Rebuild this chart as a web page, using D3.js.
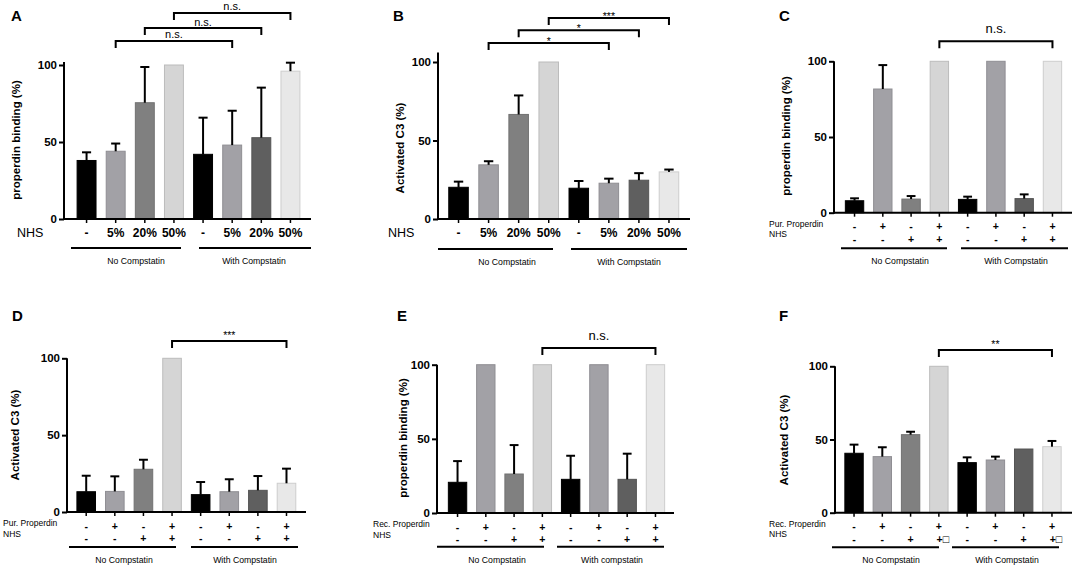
<!DOCTYPE html>
<html>
<head>
<meta charset="utf-8">
<script src="https://cdn.jsdelivr.net/npm/d3@7"></script>
<style>
  body { margin: 0; background: #fff; }
  svg { font-family: "Liberation Sans", Arial, sans-serif; }
</style>
</head>
<body>
<svg width="1084" height="569"></svg>
<script>
// values (percent)
const nhsLevels = ["-", "5%", "20%", "50%", "-", "5%", "20%", "50%"];
const propRow = ["-", "+", "-", "+", "-", "+", "-", "+"];
const nhsRow = ["-", "-", "+", "+", "-", "-", "+", "+"];
const nhsRowF = ["-", "-", "+", "+\u25A1", "-", "-", "+", "+\u25A1"];
const groups = ["No Compstatin", "With Compstatin"];
const groupsE = ["No Compstatin", "With compstatin"];

const meansA = [38, 44, 75.5, 100, 42, 48, 52.8, 96];
const errA = [5.3, 5, 23.2, 0, 23.8, 22.3, 32.5, 5.5];
const sigA = [[1, 5, "n.s.", 115.6], [2, 6, "n.s.", 124], [3, 7, "n.s.", 133.8]];

const meansB = [20.2, 34.5, 66.6, 100, 19.6, 22.8, 24.7, 30];
const errB = [3.6, 2.3, 12.1, 0, 4.6, 2.9, 4.5, 1.5];
const sigB = [[1, 5, "*", 112.1], [2, 6, "*", 120.2], [3, 7, "***", 128.1]];

const meansC = [7.9, 81.7, 9, 100, 8.8, 100, 9.3, 100];
const errC = [1.6, 15.8, 2, 0, 1.8, 0, 2.8, 0];
const sigC = [[3, 7, "n.s.", 113.3]];

const meansD = [13.2, 13.4, 27.8, 100, 11.3, 13.2, 14.1, 18.7];
const errD = [10.4, 9.8, 6.2, 0, 8.2, 8.1, 9.3, 9.5];
const sigD = [[3, 7, "***", 111.3]];

const meansE = [20.7, 100, 26.3, 100, 22.7, 100, 22.7, 100];
const errE = [14.3, 0, 19.5, 0, 15.9, 0, 17.3, 0];
const sigE = [[3, 7, "n.s.", 111.3]];

const meansF = [40.6, 38.3, 53.3, 100, 34.2, 36, 43.5, 45.1];
const errF = [5.9, 6.4, 2, 0, 3.6, 2.3, 0, 3.9];
const sigF = [[3, 7, "**", 111.1]];

const barColors = ["#000000", "#a2a1a6", "#808080", "#d5d5d5", "#000000", "#a2a1a6", "#5f5f5f", "#e8e8e8"];

const svg = d3.select('svg');

function drawPanel(p) {
  const g = svg.append('g');
  const x = d3.scaleBand()
    .domain(d3.range(p.means.length))
    .range(p.band)
    .paddingInner(0.35)
    .paddingOuter(0.175);
  const y = d3.scaleLinear().domain([0, 100]).range([p.y0, p.y100]);
  const cx = i => x(i) + x.bandwidth() / 2;

  // bars
  g.selectAll('rect.bar')
    .data(p.means)
    .enter()
    .append('rect')
    .attr('class', 'bar')
    .attr('x', (d, i) => x(i))
    .attr('y', d => y(d))
    .attr('width', x.bandwidth())
    .attr('height', d => y(0) - y(d))
    .attr('fill', (d, i) => barColors[i])
    .attr('stroke', (d, i) => d3.color(barColors[i]).darker(0.35))
    .attr('stroke-width', 1);

  // error bars (upper only)
  const cap = x.bandwidth() * 0.24;
  p.means.forEach((m, i) => {
    const e = p.err[i];
    if (!e) return;
    g.append('line')
      .attr('x1', cx(i)).attr('x2', cx(i))
      .attr('y1', y(m)).attr('y2', y(m + e))
      .attr('stroke', '#000').attr('stroke-width', 2);
    g.append('line')
      .attr('x1', cx(i) - cap).attr('x2', cx(i) + cap)
      .attr('y1', y(m + e)).attr('y2', y(m + e))
      .attr('stroke', '#000').attr('stroke-width', 2);
  });

  // y axis
  const yAxis = d3.axisLeft(y).tickValues([0, 50, 100]).tickSize(5).tickSizeOuter(0);
  const ya = g.append('g')
    .attr('transform', 'translate(' + p.left + ',0)')
    .call(yAxis);
  ya.select('.domain').remove();
  ya.selectAll('line').attr('stroke', '#000').attr('stroke-width', 2);
  ya.selectAll('text')
    .attr('x', -7)
    .style('font-size', '11.5px')
    .style('font-weight', 'bold')
    .style('font-family', '"Liberation Sans", Arial, sans-serif')
    .attr('fill', '#000');
  g.append('line')
    .attr('x1', p.left).attr('x2', p.left)
    .attr('y1', y(0) + 1).attr('y2', y(p.axisTop))
    .attr('stroke', '#000').attr('stroke-width', 2);

  // x axis
  g.append('line')
    .attr('x1', p.left - 1).attr('x2', p.right)
    .attr('y1', y(0)).attr('y2', y(0))
    .attr('stroke', '#000').attr('stroke-width', 2);
  g.selectAll('line.xtick')
    .data(p.means)
    .enter()
    .append('line')
    .attr('class', 'xtick')
    .attr('x1', (d, i) => cx(i)).attr('x2', (d, i) => cx(i))
    .attr('y1', y(0)).attr('y2', y(0) + 4)
    .attr('stroke', '#000').attr('stroke-width', 1.5);

  // y title
  g.append('text')
    .attr('transform', 'translate(' + p.ylabel[0] + ',' + p.ylabel[1] + ') rotate(-90)')
    .attr('text-anchor', 'middle')
    .attr('dominant-baseline', 'central')
    .style('font-size', '11.5px')
    .style('font-weight', 'bold')
    .text(p.ytitle);

  // panel letter
  g.append('text')
    .attr('x', p.letter[0]).attr('y', p.letter[1])
    .style('font-size', '15px')
    .style('font-weight', 'bold')
    .text(p.id);

  // category rows
  if (p.rows.length === 1) {
    g.selectAll('text.cat')
      .data(p.rows[0])
      .enter()
      .append('text')
      .attr('class', 'cat')
      .attr('x', (d, i) => cx(i))
      .attr('y', y(0) + 14)
      .attr('text-anchor', 'middle')
      .attr('dominant-baseline', 'central')
      .style('font-size', '12px')
      .style('font-weight', 'bold')
      .text(d => d);
    g.append('text')
      .attr('x', p.rowLabelX).attr('y', y(0) + 14)
      .attr('dominant-baseline', 'central')
      .style('font-size', '12.5px')
      .text(p.rowNames[0]);
  } else {
    p.rows.forEach((row, r) => {
      g.selectAll('text.cat' + r)
        .data(row)
        .enter()
        .append('text')
        .attr('class', 'cat' + r)
        .attr('x', (d, i) => cx(i) + (d.length > 1 ? 4 : 0))
        .attr('y', y(0) + 13.5 + r * 12.5)
        .attr('text-anchor', 'middle')
        .attr('dominant-baseline', 'central')
        .attr('fill', '#000')
        .style('font-size', '10.5px')
        .style('font-weight', 'bold')
        .text(d => d);
      g.append('text')
        .attr('x', p.rowLabelX).attr('y', y(0) + 11 + r * 10.5)
        .attr('dominant-baseline', 'central')
        .style('font-size', '8.5px')
        .text(p.rowNames[r]);
    });
  }

  // group lines and labels
  p.groupLines.forEach((gl, k) => {
    g.append('line')
      .attr('x1', gl[0]).attr('x2', gl[1])
      .attr('y1', y(0) + p.groupDy).attr('y2', y(0) + p.groupDy)
      .attr('stroke', '#000').attr('stroke-width', 2);
    g.append('text')
      .attr('x', p.groupLabelX[k])
      .attr('y', y(0) + p.groupDy + 13)
      .attr('text-anchor', 'middle')
      .attr('dominant-baseline', 'central')
      .style('font-size', '8.7px')
      .text(p.groups[k]);
  });

  // significance brackets
  p.sig.forEach(s => {
    const yb = y(s[3]);
    g.append('path')
      .attr('d', 'M' + cx(s[0]) + ',' + (yb + 7) + 'V' + yb + 'H' + cx(s[1]) + 'V' + (yb + 7))
      .attr('fill', 'none')
      .attr('stroke', '#000')
      .attr('stroke-width', 2);
    const star = s[2].indexOf('*') >= 0;
    g.append('text')
      .attr('x', (cx(s[0]) + cx(s[1])) / 2)
      .attr('y', yb - (star ? p.starGap : p.nsGap))
      .attr('text-anchor', 'middle')
      .style('font-size', star ? '10.5px' : p.nsSize + 'px')
      .text(s[2]);
  });
}

const panels = [
  { id: 'A', means: meansA, err: errA, sig: sigA, left: 64, right: 311, band: [72, 305], y0: 219, y100: 65, axisTop: 102,
    ytitle: 'properdin binding (%)', ylabel: [16, 140], letter: [11, 21],
    rows: [nhsLevels], rowNames: ['NHS'], rowLabelX: 17,
    groups: groups, groupLines: [[71, 181], [199, 311]], groupDy: 29, groupLabelX: [136, 254],
    nsGap: 2.5, starGap: 0, nsSize: 11 },
  { id: 'B', means: meansB, err: errB, sig: sigB, left: 438, right: 690, band: [443.5, 684], y0: 219, y100: 62, axisTop: 106,
    ytitle: 'Activated C3 (%)', ylabel: [400, 148], letter: [393, 21],
    rows: [nhsLevels], rowNames: ['NHS'], rowLabelX: 388,
    groups: groups, groupLines: [[438, 553], [571, 687]], groupDy: 30, groupLabelX: [507, 629],
    nsGap: 2.5, starGap: -2, nsSize: 11 },
  { id: 'C', means: meansC, err: errC, sig: sigC, left: 834, right: 1072, band: [840.4, 1066.6], y0: 212.7, y100: 61.3, axisTop: 100,
    ytitle: 'properdin binding (%)', ylabel: [786, 136], letter: [779, 21],
    rows: [propRow, nhsRow], rowNames: ['Pur. Properdin', 'NHS'], rowLabelX: 769,
    groups: groups, groupLines: [[841, 947], [961, 1068]], groupDy: 35.6, groupLabelX: [900, 1016],
    nsGap: 8, starGap: 0, nsSize: 13 },
  { id: 'D', means: meansD, err: errD, sig: sigD, left: 67, right: 306, band: [71.9, 300.8], y0: 512, y100: 358.3, axisTop: 100,
    ytitle: 'Activated C3 (%)', ylabel: [15, 435], letter: [12, 321],
    rows: [propRow, nhsRow], rowNames: ['Pur. Properdin', 'NHS'], rowLabelX: 3,
    groups: groups, groupLines: [[69, 176], [191, 298]], groupDy: 35, groupLabelX: [124, 245],
    nsGap: 8, starGap: 2, nsSize: 13 },
  { id: 'E', means: meansE, err: errE, sig: sigE, left: 437, right: 674, band: [443.4, 669.6], y0: 513, y100: 364.7, axisTop: 100,
    ytitle: 'properdin binding (%)', ylabel: [403, 438], letter: [397, 321],
    rows: [propRow, nhsRow], rowNames: ['Rec. Properdin', 'NHS'], rowLabelX: 373,
    groups: groupsE, groupLines: [[437, 544], [557, 664]], groupDy: 33.7, groupLabelX: [497, 612],
    nsGap: 8, starGap: 0, nsSize: 13 },
  { id: 'F', means: meansF, err: errF, sig: sigF, left: 835, right: 1072, band: [839.9, 1066.1], y0: 512.7, y100: 366.3, axisTop: 100,
    ytitle: 'Activated C3 (%)', ylabel: [784, 440], letter: [779, 321],
    rows: [propRow, nhsRowF], rowNames: ['Rec. Properdin', 'NHS'], rowLabelX: 769,
    groups: groups, groupLines: [[832, 939], [952, 1059]], groupDy: 34.6, groupLabelX: [891, 1007],
    nsGap: 8, starGap: 2, nsSize: 13 }
];

panels.forEach(drawPanel);
</script>
</body>
</html>
